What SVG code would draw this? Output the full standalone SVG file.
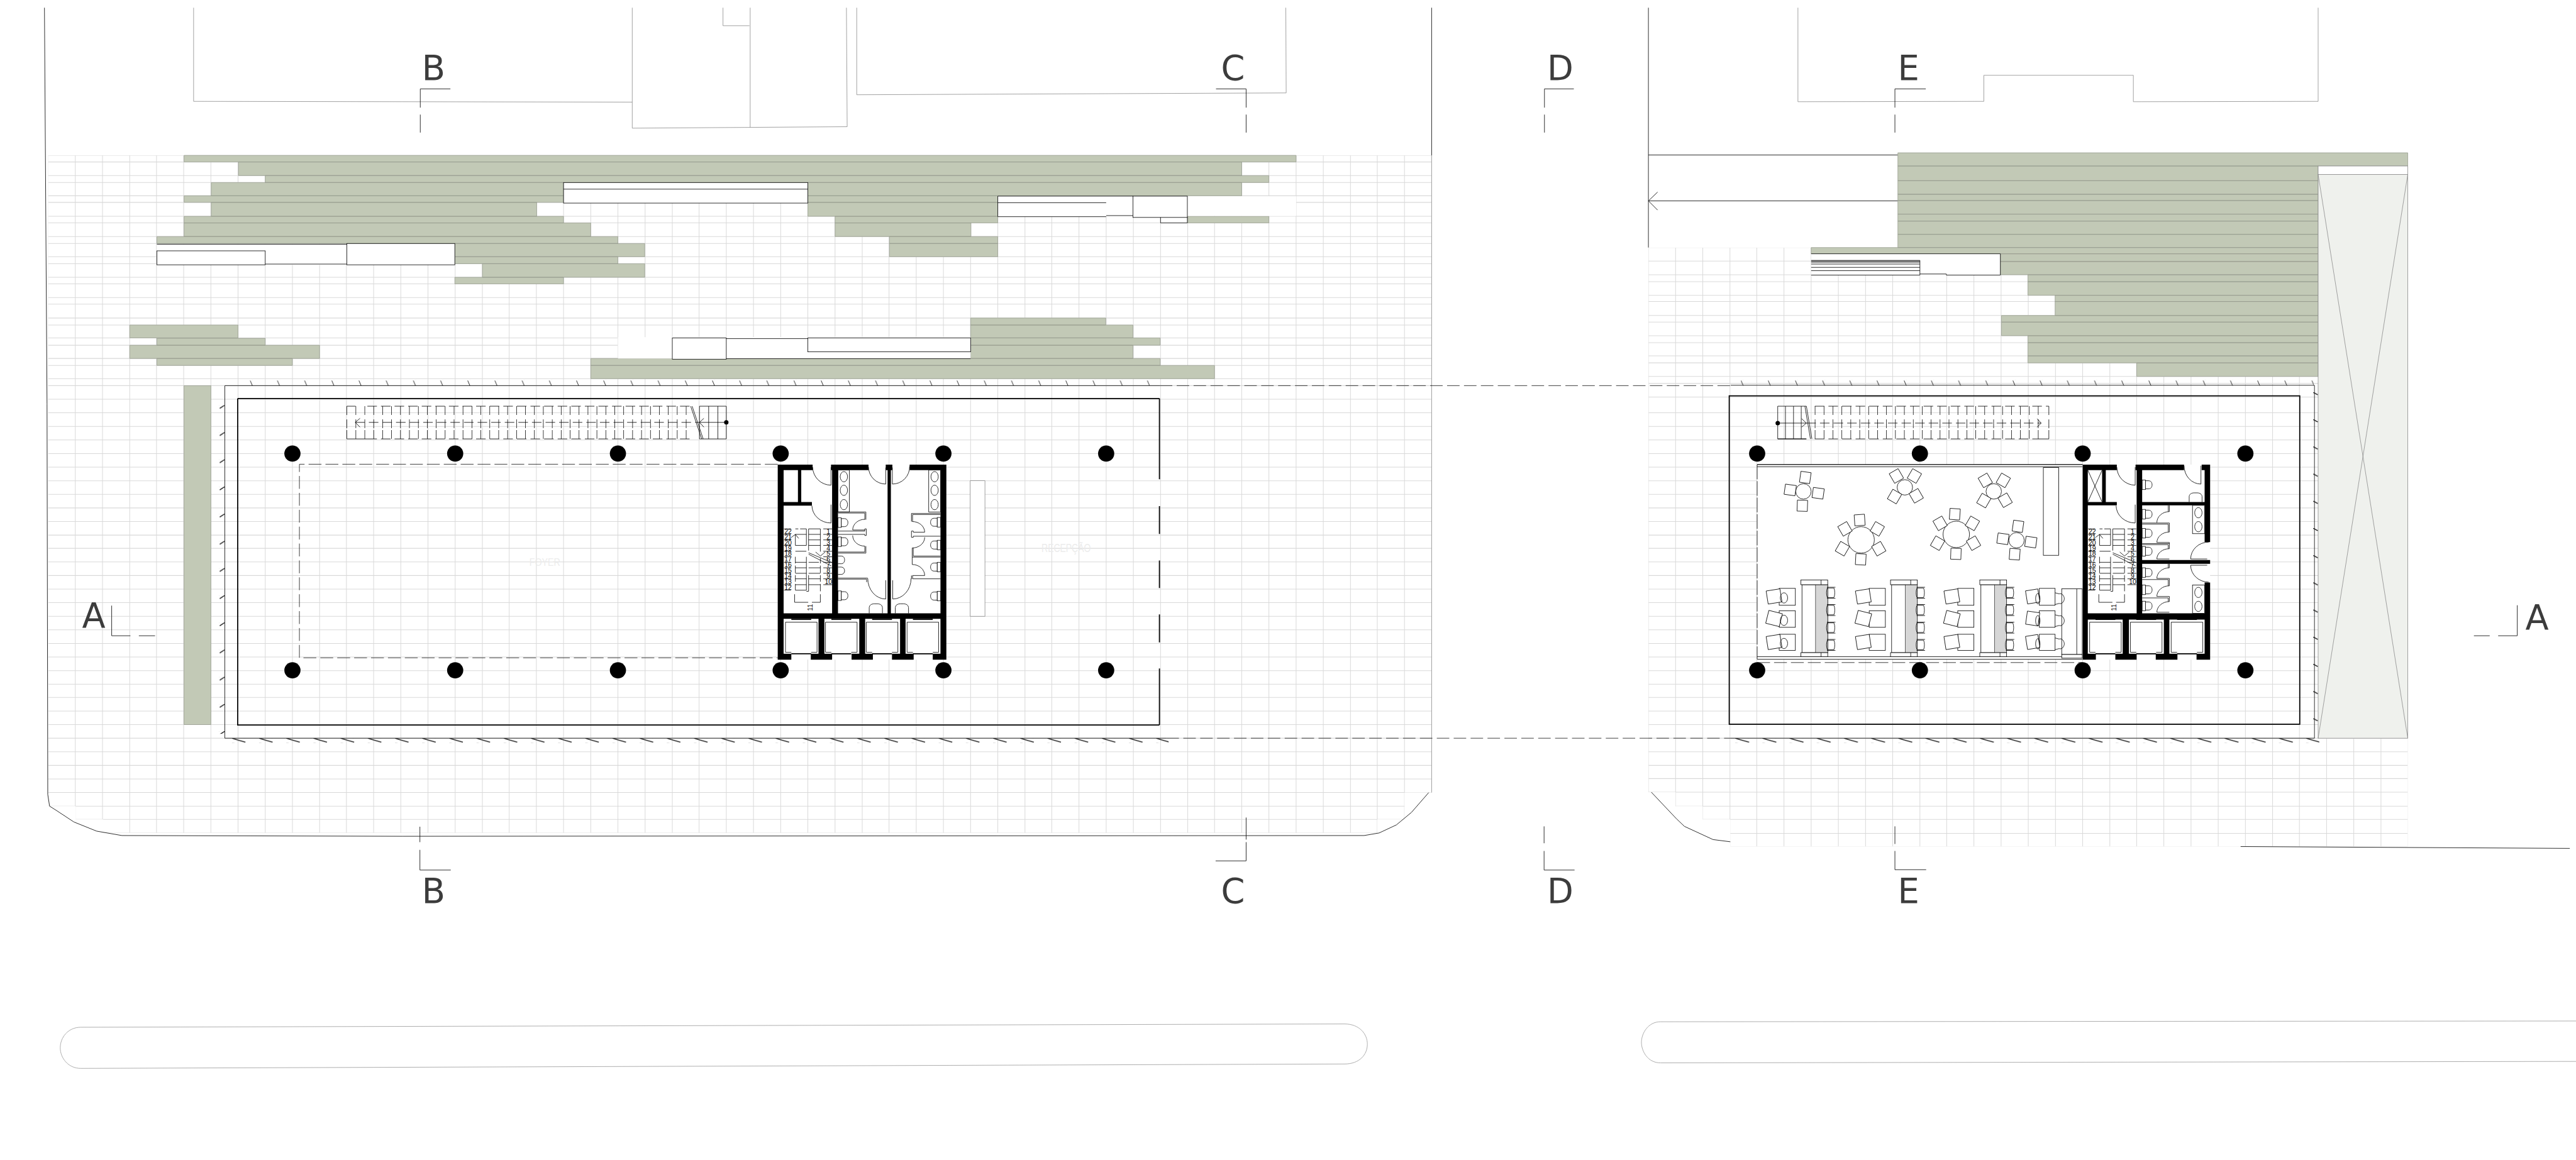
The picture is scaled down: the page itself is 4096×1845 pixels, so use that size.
<svg xmlns="http://www.w3.org/2000/svg" width="4096" height="1845" viewBox="0 0 4096 1845">
<style>
.gv{fill:none;stroke:#d6d6d6;stroke-width:1.6}
.gh{fill:none;stroke:#d9d9d9;stroke-width:1.8}
.g{fill:#c2c9b6;stroke:#959a8d;stroke-width:1.3}
.k{fill:none;stroke:#000;stroke-width:1.4}
.w{fill:#fff;stroke:#000;stroke-width:1.4}
.b{fill:#000}
.t{fill:none;stroke:#000;stroke-width:3}
.d{fill:none;stroke:#000;stroke-width:1.3;stroke-dasharray:35 11}
.o{fill:none;stroke:#8d8d8d;stroke-width:1.4}
.m{fill:none;stroke:#111;stroke-width:1.5}
.l{font-family:"DejaVu Sans",sans-serif;font-size:93px;fill:#3c3c3c;text-anchor:middle}
.n{font-family:"Liberation Sans",Arial,sans-serif;font-size:18px;fill:#000;text-anchor:middle}
.f{font-family:"Liberation Sans",Arial,sans-serif;fill:#ececec}
</style>
<defs>
<clipPath id="clipL"><path d="M131 423H3897V2158H3823V2231H3749V2268H281V2231H206V2195H131Z"/></clipPath>
<clipPath id="clipR"><path d="M4487 674H6554V2305H4710V2231H4635V2195H4561V2157H4487Z"/></clipPath>
<pattern id="tickT" patternUnits="userSpaceOnUse" x="680" y="1035" width="74" height="16"><path d="M1 1L7 15" class="m" stroke-width="2"/></pattern>
<pattern id="tickT2" patternUnits="userSpaceOnUse" x="4738" y="1035" width="74" height="16"><path d="M1 1L7 15" class="m" stroke-width="2"/></pattern>
<pattern id="tickB" patternUnits="userSpaceOnUse" x="631" y="2010" width="74" height="12"><path d="M0 0L37 11" fill="none" stroke="#111" stroke-width="2.4"/></pattern>
<pattern id="tickB2" patternUnits="userSpaceOnUse" x="4723" y="2010" width="74" height="12"><path d="M0 0L38 11" fill="none" stroke="#111" stroke-width="2.4"/></pattern>
<pattern id="tickL" patternUnits="userSpaceOnUse" x="597" y="1103" width="16" height="74"><path d="M1 9L15 0" fill="none" stroke="#111" stroke-width="2.4"/></pattern>
<pattern id="tickR" patternUnits="userSpaceOnUse" x="6296" y="1068" width="14" height="74"><path d="M0 0L13 7" fill="none" stroke="#111" stroke-width="2.4"/></pattern>
<g id="wc"><rect class="w" x="0" y="-13" width="9" height="26"/><path class="w" d="M9 -11H17C24 -11 27 -6 27 0C27 6 24 11 17 11H9Z"/></g>
<g id="lift"><path class="k" d="M0 82V0H86V82H70M0 82H16"/><path class="t" d="M16 86H70"/><rect class="b" x="16" y="-9" width="54" height="3"/></g>
<g id="stairLines"><path class="k" d="M2134 1440h19M2134 1455h19M2134 1470h19M2134 1485h19M2134 1501h19M2134 1516h19M2134 1531h19M2134 1546h19M2134 1561h19M2134 1576h19M2134 1592h19M2134 1607h19M2241 1440h24M2241 1455h24M2241 1470h24M2241 1485h24M2241 1501h24M2241 1516h24M2241 1531h24M2241 1546h24M2241 1561h24M2241 1576h24M2241 1592h24M2165 1440h8M2178 1440h17M2165 1455h30M2165 1485h30M2165 1501h30M2165 1531h30M2165 1546h30M2165 1561h30M2165 1576h30M2165 1592h30M2165 1607h30M2201 1440h32M2201 1455h32M2201 1470h32M2201 1485h32M2201 1531h28M2201 1546h32M2201 1561h32M2201 1576h32M2201 1592h32M2195 1440V1485M2201 1440V1499M2233 1440V1502M2165 1455V1485M2195 1516V1607M2201 1566V1610H2195M2165 1516V1534M2165 1540V1560M2165 1566V1584M2165 1590V1607M2233 1520V1534M2233 1540V1560M2233 1566V1584M2233 1590V1610M2153 1464L2165 1455L2174 1466M2220 1503L2233 1514L2246 1503M2201 1505L2265 1532M2201 1509L2263 1541M2163 1618V1640H2200M2210 1640H2233V1618"/></g>
<g id="booth"><rect class="w" x="4905" y="1592" width="70" height="185"/><rect x="4942" y="1592" width="33" height="185" fill="#d6d6d6" stroke="#000" stroke-width="1"/><rect class="w" x="4902" y="1579" width="73" height="13"/><path class="k" d="M4957 1579V1592"/><rect class="w" x="4902" y="1777" width="73" height="11"/><path class="k" d="M4957 1777V1788"/>
<g id="stools"><path class="k" d="M4974 1601C4971 1608 4971 1620 4974 1627H4992C4995 1620 4995 1608 4992 1601ZM4973 1599H4996M4973 1629H4996M4974 1648C4971 1655 4971 1667 4974 1674H4992C4995 1667 4995 1655 4992 1648ZM4973 1646H4996M4973 1676H4996M4974 1696C4971 1703 4971 1715 4974 1722H4992C4995 1715 4995 1703 4992 1696ZM4973 1694H4996M4973 1724H4996M4974 1743C4971 1750 4971 1762 4974 1769H4992C4995 1762 4995 1750 4992 1743ZM4973 1741H4996M4973 1771H4996"/></g></g>
<rect id="c" class="w" x="-14" y="-15" width="28" height="30"/>
</defs>
<rect width="4096" height="1845" fill="#fff"/>
<g id="plan" transform="scale(0.58415)">
<g id="site-grid-left" clip-path="url(#clipL)">
<path class="gv" d="M131 423V2268M205 423V2268M279 423V2268M353 423V2268M426 423V2268M500 423V2268M574 423V2268M648 423V2268M722 423V2268M796 423V2268M870 423V2268M943 423V2268M1017 423V2268M1091 423V2268M1165 423V2268M1239 423V2268M1313 423V2268M1386 423V2268M1460 423V2268M1534 423V2268M1608 423V2268M1682 423V2268M1756 423V2268M1830 423V2268M1903 423V2268M1977 423V2268M2051 423V2268M2125 423V2268M2199 423V2268M2273 423V2268M2347 423V2268M2420 423V2268M2494 423V2268M2568 423V2268M2642 423V2268M2716 423V2268M2790 423V2268M2863 423V2268M2937 423V2268M3011 423V2268M3085 423V2268M3159 423V2268M3233 423V2268M3306 423V2268M3380 423V2268M3454 423V2268M3528 423V2268M3602 423V2268M3676 423V2268M3749 423V2268M3823 423V2268M3897 423V2268"/>
<path class="gh" d="M131 423H3897M131 441H3897M131 478H3897M131 497H3897M131 533H3897M131 551H3897M131 589H3897M131 607H3897M131 644H3897M131 663H3897M131 699H3897M131 718H3897M131 755H3897M131 773H3897M131 810H3897M131 828H3897M131 866H3897M131 885H3897M131 920H3897M131 940H3897M131 976H3897M131 995H3897M131 1031H3897M131 1050H3897M131 1087H3897M131 1124H3897M131 1161H3897M131 1198H3897M131 1235H3897M131 1272H3897M131 1309H3897M131 1346H3897M131 1383H3897M131 1420H3897M131 1457H3897M131 1493H3897M131 1530H3897M131 1567H3897M131 1604H3897M131 1641H3897M131 1678H3897M131 1715H3897M131 1752H3897M131 1789H3897M131 1826H3897M131 1863H3897M131 1899H3897M131 1936H3897M131 1973H3897M131 2010H3897M131 2047H3897M131 2084H3897M131 2121H3897M131 2158H3897M131 2195H3897M131 2231H3897M131 2268H3897"/>
</g>
<g id="site-grid-right" clip-path="url(#clipR)">
<path class="gv" d="M4487 674V2305M4561 674V2305M4635 674V2305M4709 674V2305M4782 674V2305M4856 674V2305M4930 674V2305M5004 674V2305M5078 674V2305M5152 674V2305M5226 674V2305M5299 674V2305M5373 674V2305M5447 674V2305M5521 674V2305M5595 674V2305M5669 674V2305M5743 674V2305M5816 674V2305M5890 674V2305M5964 674V2305M6038 674V2305M6112 674V2305M6186 674V2305M6259 674V2305M6333 674V2305M6407 674V2305M6481 674V2305M6554 674V2305"/>
<path class="gh" d="M4487 674H6554M4487 711H6554M4487 748H6554M4487 767H6554M4487 804H6554M4487 821H6554M4487 859H6554M4487 877H6554M4487 914H6554M4487 933H6554M4487 969H6554M4487 988H6554M4487 1025H6554M4487 1044H6554M4487 1081H6554M4487 1124H6554M4487 1161H6554M4487 1198H6554M4487 1235H6554M4487 1272H6554M4487 1309H6554M4487 1346H6554M4487 1383H6554M4487 1420H6554M4487 1457H6554M4487 1493H6554M4487 1530H6554M4487 1567H6554M4487 1604H6554M4487 1641H6554M4487 1678H6554M4487 1715H6554M4487 1752H6554M4487 1789H6554M4487 1826H6554M4487 1863H6554M4487 1899H6554M4487 1936H6554M4487 1973H6554M4487 2010H6554M4487 2047H6554M4487 2084H6554M4487 2120H6554M4487 2157H6554M4487 2195H6554M4487 2231H6554M4487 2269H6554M4487 2305H6554"/>
</g>
<g id="site-outlines">
<path class="m" stroke="#444" d="M121 21L128 1100L130 2163L135 2195L154 2207L201 2238L263 2263L332 2275L1096 2277L3713 2275L3754 2268L3801 2246L3842 2212L3889 2158"/>
<path class="o" d="M3897 423V2158"/>
<path class="m" d="M3897 21V423M4487 21V674"/>
<path class="o" d="M527 21V276L1721 278M1721 21V349L2306 345L2304 21M2042 21V347M1968 21V70H2040M2332 21V258L3501 253L3500 21M4894 21V277L5400 276V205L5807 205V277L6310 276V21"/>
<path class="m" d="M4487 422H5166M4487 547H5166M4512 523L4487 547L4512 572"/>
<path class="m" d="M4495 2157L4563 2229L4585 2250L4663 2286L4710 2292M6099 2305L6995 2310"/>
</g>
<g id="planting-left">
<path class="g" d="M501 423H3528V441H501ZM649 441H3380V478H649ZM722 478H3454V497H722ZM575 497H1534V533H575ZM2199 497H3380V533H2199ZM501 533H1534V551H501ZM2199 533H2716V551H2199ZM575 551H1461V589H575ZM2199 551H2716V589H2199ZM501 589H1534V607H501ZM2273 589H2716V607H2273ZM3233 589H3454V607H3233ZM501 607H1608V644H501ZM2273 607H2643V644H2273ZM427 644H1682V663H427ZM2421 644H2716V663H2421ZM1238 663H1755V699H1238ZM2421 663H2716V699H2421ZM1238 699H1682V718H1238ZM1313 718H1755V755H1313ZM1238 755H1534V773H1238Z"/>
<path class="g" d="M353 885H648V920H353ZM427 921H722V940H427ZM353 940H870V976H353ZM427 976H796V995H427ZM2642 866H3010V885H2642ZM2642 885H3084V920H2642ZM2642 920H3158V940H2642ZM2642 940H3084V976H2642ZM1608 976H3158V995H1608ZM1608 995H3306V1031H1608Z"/>
<rect class="g" x="501" y="1050" width="73" height="923"/>
</g>
<g id="openings-left">
<path fill="#fff" d="M2716 534H3528V588H3232V607H3159V590H2716ZM427 665H1238V721H427ZM1682 918H2642V976H1682Z"/>
<rect class="w" x="1534" y="497" width="665" height="56"/><path class="k" d="M1534 515H2199"/>
<path class="k" d="M2716 534H3084M2716 534V590H3011M2716 552H3011M3011 587H3084"/><rect class="w" x="3084" y="534" width="148" height="58"/><path class="k" d="M3159 592V607H3232V592"/>
<path class="k" d="M427 665H944M722 719H944"/><rect class="w" x="427" y="683" width="295" height="38"/><rect class="w" x="944" y="663" width="294" height="58"/>
<rect class="w" x="1830" y="920" width="147" height="58"/><path class="k" d="M1977 922H2199M1977 976.500H2642"/><rect class="w" x="2199" y="920" width="443" height="38"/>
</g>
<g id="planting-right">
<path class="g" d="M5166 416H6554V452H5166ZM5166 452H6310V492H5166ZM5166 492H6310V529H5166ZM5166 529H6310V546H5166ZM5166 546H6310V583H5166ZM5166 583H6310V602H5166ZM5166 602H6310V638H5166ZM5166 638H6310V674H5166ZM4930 674H6310V691H4930ZM5445 691H6310V712H5445ZM5445 712H6310V748H5445ZM5520 748H6310V767H5520ZM5520 767H6310V804H5520ZM5594 804H6310V821H5594ZM5594 821H6310V859H5594ZM5448 859H6310V877H5448ZM5448 877H6310V914H5448ZM5520 914H6310V933H5520ZM5520 933H6310V969H5520ZM5520 969H6310V988H5520ZM5816 988H6310V1025H5816Z"/>
<rect x="4930" y="691" width="515" height="58" fill="#fff"/>
<path class="k" d="M4930 691H5445V749H5298V746H5226M4930 749H5226V709H4930M4930 711H5226M4930 714H5226M4930 719H5226M4930 728H5226M4930 737H5226"/>
<rect class="o" style="fill:#fff" x="6310" y="452" width="244" height="23"/>
<rect x="6310" y="475" width="244" height="1535" fill="#eff1ed" stroke="#8d8d8d" stroke-width="1.4"/>
<path class="o" d="M6310 475L6554 2010M6554 475L6310 2010"/>
</g>
<g id="building-left">
<path class="k" stroke-width="2" d="M3157 1050H612V2010H3175"/>
<path class="d" style="stroke-dasharray:34 12" d="M3157 1050H4711M3175 2010H4711"/>
<rect x="680" y="1035" width="2450" height="16" fill="url(#tickT)"/>
<rect x="631" y="2010" width="2550" height="12" fill="url(#tickB)"/>
<rect x="597" y="1103" width="16" height="895" fill="url(#tickL)"/>
<path class="t" d="M647 1085H3156M647 1085V1974H3156"/>
<path class="t" d="M3156 1085V1305M3156 1378V1454M3156 1526V1601M3156 1673V1749M3156 1820V1974"/>
<path class="d" d="M2117 1264H815V1791H2117"/>
<g id="columns-left" class="b"><circle cx="796" cy="1235" r="22"/><circle cx="1239" cy="1235" r="22"/><circle cx="1682" cy="1235" r="22"/><circle cx="2125" cy="1235" r="22"/><circle cx="2568" cy="1235" r="22"/><circle cx="3011" cy="1235" r="22"/><circle cx="796" cy="1825" r="22"/><circle cx="1239" cy="1825" r="22"/><circle cx="1682" cy="1825" r="22"/><circle cx="2125" cy="1825" r="22"/><circle cx="2568" cy="1825" r="22"/><circle cx="3011" cy="1825" r="22"/></g>
<g id="stair-upper-left"><path d="M968 1118H1884" stroke="#000" stroke-width="24" stroke-dasharray="1.3 23" fill="none"/><path d="M968 1154H1884" stroke="#000" stroke-width="24" stroke-dasharray="1.3 23" fill="none"/><path d="M968 1183H1884" stroke="#000" stroke-width="24" stroke-dasharray="1.3 23" fill="none"/>
<path class="k" d="M944 1106V1130M944 1142V1166M944 1171V1195M944 1106H968M944 1195H1000M1904 1106H1977V1195H1904M1929 1106V1195M1954 1106V1195M1904 1106V1195M1884 1106L1914 1195M1880 1106L1910 1195M1904 1150H1977M980 1139L967 1150L980 1163M1916 1139L1904 1150L1916 1163"/>
<path class="k" stroke-dasharray="26 11" d="M967 1150H1904M1000 1106H1884M1000 1195H1884"/><circle class="b" cx="1977" cy="1150" r="6"/></g>
<rect x="2641" y="1309" width="40" height="369" fill="#fff" stroke="#777" stroke-width="1.2"/>
<text class="f" x="2835" y="1503" font-size="32" textLength="134" lengthAdjust="spacingAndGlyphs">RECEPÇÃO</text>
<text class="f" x="1441" y="1540" font-size="28" textLength="84" lengthAdjust="spacingAndGlyphs">FOYER</text>
</g>
<g id="core-left">
<rect x="2117" y="1265" width="459" height="531" fill="#fff"/>
<path class="b" d="M2117 1265H2212V1280H2133V1367H2172V1280H2181V1367H2210V1377H2133V1670H2265V1280H2262V1265H2364V1280H2281V1670H2416V1280H2411V1265H2429V1280H2425V1670H2560V1280H2476V1265H2576V1796H2539V1780H2560V1685H2465V1780H2487V1796H2428V1780H2450V1685H2355V1780H2376V1796H2318V1780H2339V1685H2244V1780H2265V1796H2207V1780H2228V1685H2133V1780H2154V1796H2117Z"/>
<g id="lifts-left"><use href="#lift" x="2138" y="1694"/><use href="#lift" x="2247" y="1694"/><use href="#lift" x="2358" y="1694"/><use href="#lift" x="2469" y="1694"/></g>
<path class="k" d="M2212 1272A50 50 0 0 0 2262 1321V1272M2210 1377A52 48 0 0 0 2262 1424V1374M2364 1271A47 47 0 0 0 2411 1318V1273M2476 1270A47 47 0 0 1 2429 1318V1273M2362 1575A49 56 0 0 0 2411 1631V1580M2480 1575A50 56 0 0 1 2430 1631V1580"/>
<rect class="w" x="2281" y="1280" width="31" height="114"/><ellipse class="k" cx="2297" cy="1298" rx="10" ry="14"/><ellipse class="k" cx="2297" cy="1335" rx="10" ry="14"/><ellipse class="k" cx="2297" cy="1374" rx="10" ry="14"/>
<rect class="w" x="2528" y="1280" width="32" height="114"/><ellipse class="k" cx="2544" cy="1298" rx="10" ry="14"/><ellipse class="k" cx="2544" cy="1335" rx="10" ry="14"/><ellipse class="k" cx="2544" cy="1374" rx="10" ry="14"/>
<path class="k" d="M2281 1394H2357V1415M2281 1397H2354V1415M2354 1414A33 29 0 0 0 2321 1443H2354V1440H2358V1458H2354V1455H2281M2354 1443V1446H2281M2321 1458A33 29 0 0 0 2354 1487V1503H2281M2357 1487V1506H2281M2281 1574H2362M2281 1577H2359V1585"/>
<path class="k" d="M2281 1514h9c6 0 9 5 9 10.500s-3 10.500-9 10.500h-9M2281 1544h9c6 0 9 5 9 10s-3 10-9 10h-9"/>
<use href="#wc" transform="translate(2281,1423)"/><use href="#wc" transform="translate(2281,1475)"/><use href="#wc" transform="translate(2281,1622)"/>
<path class="k" d="M2560 1398H2481V1420M2560 1401H2484V1420M2483 1420A34 29 0 0 1 2517 1449H2486V1446H2481V1463H2486V1460H2560M2517 1463A34 29 0 0 1 2483 1492V1517H2560M2486 1492V1514H2560M2483 1517V1537A34 30 0 0 1 2517 1567H2484V1576H2560M2481 1567V1576"/>
<use href="#wc" transform="translate(2560,1422) scale(-1,1)"/><use href="#wc" transform="translate(2560,1484) scale(-1,1)"/><use href="#wc" transform="translate(2560,1544) scale(-1,1)"/><use href="#wc" transform="translate(2560,1623) scale(-1,1)"/>
<path class="k" d="M2366 1670V1655C2366 1648 2372 1644 2380 1644H2388C2396 1644 2402 1648 2402 1655V1670M2437 1670V1655C2437 1648 2443 1644 2451 1644H2459C2467 1644 2473 1648 2473 1655V1670"/>
<use href="#stairLines"/>
<g id="stair-numbers-left">
<text class="n" x="2255" y="1453">1</text><text class="n" x="2255" y="1468">2</text><text class="n" x="2255" y="1484">3</text><text class="n" x="2255" y="1499">4</text><text class="n" x="2255" y="1514">5</text><text class="n" x="2255" y="1529">6</text><text class="n" x="2255" y="1544">7</text><text class="n" x="2255" y="1560">8</text><text class="n" x="2255" y="1575">9</text><text class="n" x="2255" y="1590">10</text>
<text class="n" x="2145" y="1453">22</text><text class="n" x="2145" y="1468">21</text><text class="n" x="2145" y="1484">20</text><text class="n" x="2145" y="1499">19</text><text class="n" x="2145" y="1514">18</text><text class="n" x="2145" y="1529">17</text><text class="n" x="2145" y="1544">16</text><text class="n" x="2145" y="1560">15</text><text class="n" x="2145" y="1575">14</text><text class="n" x="2145" y="1590">13</text><text class="n" x="2145" y="1605">12</text>
<text class="n" transform="translate(2211,1654) rotate(-90)">11</text></g>
</g>
<g id="building-right">
<path class="k" stroke-width="2" d="M4711 1049H6300V2010H4711"/>
<rect x="4738" y="1035" width="1560" height="16" fill="url(#tickT2)"/>
<rect x="4723" y="2010" width="1590" height="12" fill="url(#tickB2)"/>
<rect x="6296" y="1068" width="14" height="896" fill="url(#tickR)"/>
<path class="t" d="M4707 1078H6260V1972H4707Z"/>
<g id="columns-right" class="b"><circle cx="4783" cy="1235" r="22"/><circle cx="5226" cy="1235" r="22"/><circle cx="5669" cy="1235" r="22"/><circle cx="6112" cy="1235" r="22"/><circle cx="4783" cy="1825" r="22"/><circle cx="5226" cy="1825" r="22"/><circle cx="5669" cy="1825" r="22"/><circle cx="6112" cy="1825" r="22"/></g>
<g id="stair-upper-right"><path d="M4940 1118H5560" stroke="#000" stroke-width="24" stroke-dasharray="1.3 23" fill="none"/><path d="M4940 1154H5560" stroke="#000" stroke-width="24" stroke-dasharray="1.3 23" fill="none"/><path d="M4940 1183H5560" stroke="#000" stroke-width="24" stroke-dasharray="1.3 23" fill="none"/>
<path class="k" d="M4839 1106V1195H4917H4839M4839 1106H4917M4860 1106V1195M4882 1106V1195M4903 1106V1195M5577 1106V1130M5577 1142V1166M5577 1171V1195M5577 1195H5540M4917 1106L4932 1195M4913 1106L4928 1195M4839 1152H4917M4904 1140L4917 1152L4904 1163M5545 1140L5556 1152L5545 1163"/>
<path class="k" stroke-dasharray="26 11" d="M4917 1152H5556M4940 1106H5577M4940 1195H5540"/><circle class="b" cx="4839" cy="1152" r="6"/></g>
<g id="cafe">
<rect x="4783" y="1265" width="886" height="530" fill="#fff"/>
<path class="k" style="stroke-width:2" d="M4783 1265H5669"/><path class="k" d="M4783 1271H5669M4783 1788H5612M4783 1795H5669"/>
<path class="k" stroke-dasharray="40 5" d="M4783 1265V1795"/>
<path class="d" d="M4783 1804H5669"/>
<rect class="w" x="5562" y="1273" width="42" height="239"/>
<g id="tables"><circle class="k" cx="4909" cy="1338" r="21"/><circle class="k" cx="5185" cy="1327" r="21"/><circle class="k" cx="5427" cy="1338" r="21"/><circle class="k" cx="5066" cy="1470" r="36"/><circle class="k" cx="5325" cy="1455" r="36"/><circle class="k" cx="5489" cy="1471" r="21"/></g>
<g id="chairs">
<use href="#c" transform="translate(4914,1300) rotate(8)"/><use href="#c" transform="translate(4873,1334) rotate(98)"/><use href="#c" transform="translate(4949,1343) rotate(98)"/><use href="#c" transform="translate(4906,1377) rotate(2)"/>
<use href="#c" transform="translate(5162,1296) rotate(-30)"/><use href="#c" transform="translate(5211,1296) rotate(30)"/><use href="#c" transform="translate(5157,1352) rotate(30)"/><use href="#c" transform="translate(5216,1350) rotate(-30)"/>
<use href="#c" transform="translate(5404,1308) rotate(-30)"/><use href="#c" transform="translate(5453,1308) rotate(30)"/><use href="#c" transform="translate(5400,1363) rotate(30)"/><use href="#c" transform="translate(5458,1362) rotate(-30)"/>
<use href="#c" transform="translate(5062,1416) rotate(-4)"/><use href="#c" transform="translate(5065,1523) rotate(3)"/><use href="#c" transform="translate(5022,1440) rotate(-30)"/><use href="#c" transform="translate(5110,1440) rotate(30)"/><use href="#c" transform="translate(5015,1494) rotate(30)"/><use href="#c" transform="translate(5114,1494) rotate(-30)"/>
<use href="#c" transform="translate(5321,1400) rotate(4)"/><use href="#c" transform="translate(5324,1508) rotate(2)"/><use href="#c" transform="translate(5281,1425) rotate(-30)"/><use href="#c" transform="translate(5369,1425) rotate(30)"/><use href="#c" transform="translate(5274,1479) rotate(30)"/><use href="#c" transform="translate(5372,1479) rotate(-30)"/>
<use href="#c" transform="translate(5493,1433) rotate(8)"/><use href="#c" transform="translate(5452,1467) rotate(98)"/><use href="#c" transform="translate(5528,1476) rotate(98)"/><use href="#c" transform="translate(5484,1509) rotate(4)"/>
</g>
<g id="booths"><use href="#booth"/><use href="#booth" x="244"/><use href="#booth" x="487"/></g>
<g id="desks">
<rect class="k" x="4843" y="1602" width="44" height="46"/><rect class="k" x="4843" y="1663" width="44" height="45"/><rect class="k" x="4843" y="1727" width="44" height="44"/>
<rect class="k" x="5088" y="1602" width="44" height="46"/><rect class="k" x="5088" y="1663" width="44" height="45"/><rect class="k" x="5088" y="1727" width="44" height="44"/>
<rect class="k" x="5329" y="1602" width="44" height="46"/><rect class="k" x="5329" y="1663" width="44" height="45"/><rect class="k" x="5329" y="1727" width="44" height="44"/>
<rect class="k" x="5551" y="1602" width="43" height="46"/><rect class="k" x="5551" y="1663" width="43" height="45"/><rect class="k" x="5551" y="1727" width="43" height="44"/>
<g id="desk-chairs">
<rect class="w" x="-19" y="-18" width="38" height="36" transform="translate(4829,1624) rotate(-9)"/><rect class="w" x="-19" y="-18" width="38" height="36" transform="translate(4829,1684) rotate(14)"/><rect class="w" x="-19" y="-18" width="38" height="36" transform="translate(4829,1748) rotate(-9)"/>
<rect class="w" x="-19" y="-18" width="38" height="36" transform="translate(5072,1624) rotate(-9)"/><rect class="w" x="-19" y="-18" width="38" height="36" transform="translate(5072,1684) rotate(14)"/><rect class="w" x="-19" y="-18" width="38" height="36" transform="translate(5072,1748) rotate(-9)"/>
<rect class="w" x="-19" y="-18" width="38" height="36" transform="translate(5313,1624) rotate(-9)"/><rect class="w" x="-19" y="-18" width="38" height="36" transform="translate(5313,1684) rotate(14)"/><rect class="w" x="-19" y="-18" width="38" height="36" transform="translate(5313,1748) rotate(-9)"/>
<rect class="w" x="-17" y="-18" width="34" height="36" transform="translate(5533,1624) rotate(-9)"/><rect class="w" x="-17" y="-18" width="34" height="36" transform="translate(5533,1684) rotate(8)"/><rect class="w" x="-17" y="-18" width="34" height="36" transform="translate(5533,1748) rotate(-9)"/>
</g>
<ellipse class="k" cx="4856" cy="1628" rx="10" ry="14"/><ellipse class="k" cx="4856" cy="1689" rx="10" ry="14"/><ellipse class="k" cx="4856" cy="1752" rx="10" ry="14"/>
<ellipse class="k" cx="5547" cy="1630" rx="6" ry="14"/><ellipse class="k" cx="5547" cy="1690" rx="6" ry="14"/><ellipse class="k" cx="5547" cy="1753" rx="6" ry="14"/>
<rect class="w" x="5612" y="1603" width="56" height="179"/><path class="k" d="M5653 1603V1782"/><rect class="w" x="5612" y="1782" width="56" height="10"/>
<path class="k" d="M5594 1614L5605 1617C5612 1614 5619 1622 5619 1630C5619 1638 5612 1646 5605 1643L5594 1646M5594 1674L5605 1677C5612 1674 5619 1682 5619 1690C5619 1698 5612 1706 5605 1703L5594 1706M5594 1737L5605 1740C5612 1737 5619 1745 5619 1753C5619 1761 5612 1769 5605 1766L5594 1769"/>
</g>
</g>
</g>
<g id="core-right">
<rect x="5669" y="1265" width="347" height="531" fill="#fff"/>
<path class="b" d="M5669 1265H5762V1280H5732V1367H5762V1376H5683V1670H5816V1280H5813V1265H5945V1280H5831V1367H6001V1280H5993V1265H6016V1476H6001V1376H5831V1525H6016V1535H5831V1670H6001V1586H6016V1796H5979V1780H6001V1687H5905V1780H5927V1796H5868V1780H5890V1687H5795V1780H5816V1796H5758V1780H5778V1687H5683V1780H5705V1796H5669ZM5683 1280V1367H5722V1280Z"/>
<path class="k" d="M5683 1280L5722 1367M5722 1280L5683 1367"/>
<use href="#lift" x="5688" y="1694"/><use href="#lift" x="5799" y="1694"/><use href="#lift" x="5910" y="1694"/>
<path class="k" d="M5762 1272A50 50 0 0 0 5812 1321V1272M5760 1377A52 48 0 0 0 5812 1424V1374M5945 1268A46 50 0 0 0 5991 1318V1268M6012 1476A49 46 0 0 0 5963 1522H6008M5963 1539A49 46 0 0 0 6012 1585"/>
<path class="k" d="M5963 1539H6008M5959 1367V1352C5959 1346 5965 1342 5972 1342H5981C5988 1342 5994 1346 5994 1352V1367"/>
<rect class="w" x="5968" y="1376" width="33" height="77"/><ellipse class="k" cx="5984" cy="1396" rx="10" ry="14"/><ellipse class="k" cx="5984" cy="1434" rx="10" ry="14"/>
<rect class="w" x="5968" y="1593" width="33" height="77"/><ellipse class="k" cx="5984" cy="1613" rx="10" ry="14"/><ellipse class="k" cx="5984" cy="1651" rx="10" ry="14"/>
<path class="k" d="M5905 1376V1393A34 30 0 0 0 5871 1423M5902 1376V1393M5831 1424H5905V1448.500A34 29 0 0 0 5871 1477H5905V1494A34 28 0 0 0 5871 1522H5905M5831 1427H5902V1448M5831 1480H5905M5831 1483H5902V1494M5905 1535V1546A34 29 0 0 0 5871 1575H5905V1595A34 29 0 0 0 5871 1624H5905V1638A34 29 0 0 0 5871 1667H5905M5902 1535V1546M5831 1578H5902V1595M5831 1628H5902V1638"/>
<use href="#wc" transform="translate(5831,1320)"/><use href="#wc" transform="translate(5831,1400)"/><use href="#wc" transform="translate(5831,1452)"/><use href="#wc" transform="translate(5831,1501)"/><use href="#wc" transform="translate(5831,1559)"/><use href="#wc" transform="translate(5831,1606)"/><use href="#wc" transform="translate(5831,1650)"/>
<use href="#stairLines" x="3550"/>
<g id="stair-numbers-right">
<text class="n" x="5805" y="1453">1</text><text class="n" x="5805" y="1468">2</text><text class="n" x="5805" y="1484">3</text><text class="n" x="5805" y="1499">4</text><text class="n" x="5805" y="1514">5</text><text class="n" x="5805" y="1529">6</text><text class="n" x="5805" y="1544">7</text><text class="n" x="5805" y="1560">8</text><text class="n" x="5805" y="1575">9</text><text class="n" x="5805" y="1590">10</text>
<text class="n" x="5695" y="1453">22</text><text class="n" x="5695" y="1468">21</text><text class="n" x="5695" y="1484">20</text><text class="n" x="5695" y="1499">19</text><text class="n" x="5695" y="1514">18</text><text class="n" x="5695" y="1529">17</text><text class="n" x="5695" y="1544">16</text><text class="n" x="5695" y="1560">15</text><text class="n" x="5695" y="1575">14</text><text class="n" x="5695" y="1590">13</text><text class="n" x="5695" y="1605">12</text>
<text class="n" transform="translate(5761,1654) rotate(-90)">11</text></g>
</g>
<g id="section-marks">
<path class="m" d="M1226 242H1144V293M1144 312V361M3310 242H3392V293M3392 312V361M4284 242H4204V293M4204 312V361M5242 242H5158V293M5158 312V361"/>
<path class="m" d="M1143 2251V2293M1143 2314V2369H1227M3392 2226V2286M3392 2293V2344H3309M4203 2250V2296M4203 2317V2369H4286M5158 2250V2298M5158 2317V2368H5243"/>
<path class="m" d="M304 1649V1731H355M378 1731H422M6852 1648V1731H6800M6777 1731H6734"/>
<text class="l" x="1180" y="217">B</text><text class="l" x="3356" y="217">C</text><text class="l" x="4247" y="217">D</text><text class="l" x="5195" y="217">E</text>
<text class="l" x="1180" y="2459">B</text><text class="l" x="3356" y="2459">C</text><text class="l" x="4247" y="2459">D</text><text class="l" x="5195" y="2459">E</text>
<text class="l" x="255" y="1709">A</text><text class="l" x="6906" y="1714">A</text>
</g>
<g id="roads">
<path fill="none" stroke="#a8a8a8" stroke-width="1.6" d="M220 2797L3660 2788C3700 2788 3722 2815 3722 2843C3722 2872 3700 2897 3660 2897L220 2909C185 2909 164 2880 164 2853C164 2825 185 2797 220 2797Z"/>
<path fill="none" stroke="#a8a8a8" stroke-width="1.6" d="M7012 2780L4520 2782C4485 2782 4468 2815 4468 2838C4468 2862 4485 2894 4520 2894L7012 2890"/>
</g>
</g>
</svg>
